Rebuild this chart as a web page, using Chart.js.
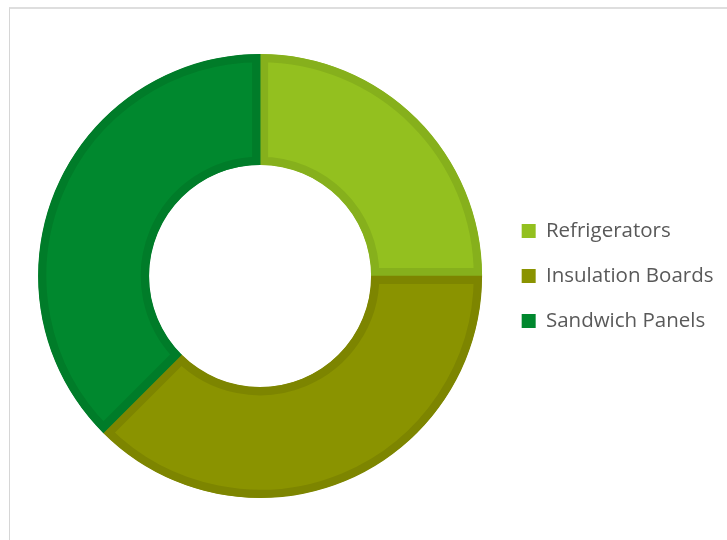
<!DOCTYPE html>
<html>
<head>
<meta charset="utf-8">
<script src="https://cdn.jsdelivr.net/npm/chart.js@4/dist/chart.umd.min.js"></script>
<style>
  html, body { margin: 0; padding: 0; background: #ffffff; }
  #wrap { position: relative; width: 727px; height: 540px; overflow: hidden; }
  #frame {
    position: absolute; left: 9px; top: 7px; width: 740px; height: 560px;
    border-left: 1px solid #d6d6d6; border-top: 2px solid #dedede;
    box-sizing: border-box; pointer-events: none;
  }
  #chart { position: absolute; left: 0; top: 0; }
</style>
</head>
<body>
<div id="wrap">
  <canvas id="chart" width="727" height="540"></canvas>
  <div id="frame"></div>
</div>
<script>
// Product segments and their shares
const categories = ['Refrigerators', 'Insulation Boards', 'Sandwich Panels'];
const shares = [25, 37.5, 37.5];

const fillColors = ['#93c01f', '#8a9300', '#00882e'];
const edgeColors = ['#86b01c', '#7d8500', '#007c29'];

new Chart(document.getElementById('chart'), {
  type: 'doughnut',
  data: {
    labels: categories,
    datasets: [{
      data: shares,
      backgroundColor: fillColors,
      borderColor: edgeColors,
      borderWidth: 8,
      borderAlign: 'inner',
      hoverOffset: 0
    }]
  },
  options: {
    responsive: false,
    animation: false,
    cutout: '50%',
    layout: { padding: { left: 23, top: 54, bottom: 42, right: 3.5 } },
    plugins: {
      tooltip: { enabled: false },
      legend: {
        position: 'right',
        align: 'center',
        labels: {
          boxWidth: 14,
          boxHeight: 14,
          padding: 24.5,
          color: '#595959',
          font: { family: '"Open Sans", Lato, sans-serif', size: 20.5 },
          generateLabels(chart) {
            const ds = chart.data.datasets[0];
            return chart.data.labels.map((label, i) => ({
              text: label,
              fillStyle: ds.backgroundColor[i],
              strokeStyle: ds.backgroundColor[i],
              lineWidth: 0,
              fontColor: '#595959',
              index: i
            }));
          }
        }
      }
    }
  }
});
</script>
</body>
</html>
